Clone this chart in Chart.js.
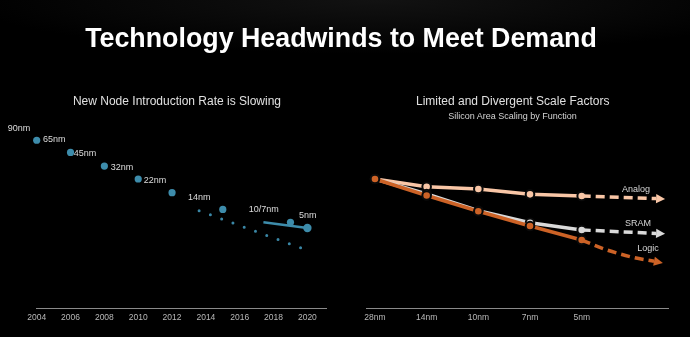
<!DOCTYPE html>
<html>
<head>
<meta charset="utf-8">
<script src="https://cdn.jsdelivr.net/npm/chart.js@4/dist/chart.umd.min.js"></script>
<style>
  html, body { margin: 0; padding: 0; }
  body {
    width: 690px; height: 337px; overflow: hidden; position: relative;
    background: radial-gradient(ellipse 60% 16% at 55% 0%, rgba(60,60,60,0.3), rgba(0,0,0,0) 100%), #000;
    font-family: "Liberation Sans", Arial, sans-serif;
  }
  canvas { position: absolute; left: 0; top: 0; }
  .txt { position: absolute; text-align: center; white-space: nowrap; line-height: 1; }
  #title { left: 41px; width: 600px; top: 24.5px; font-size: 26.8px; font-weight: bold; color: #fff; }
  #leftTitle { left: -23px; width: 400px; top: 94.8px; font-size: 12px; color: #e0e0e0; }
  #rightTitle { left: 312.7px; width: 400px; top: 94.8px; font-size: 12px; color: #e0e0e0; }
  #rightSub { left: 312.5px; width: 400px; top: 111.7px; font-size: 9px; color: #d4d4d4; }
</style>
</head>
<body>
<canvas id="nodeChart" width="690" height="337"></canvas>
<canvas id="scaleChart" width="690" height="337"></canvas>
<div class="txt" id="title">Technology Headwinds to Meet Demand</div>
<div class="txt" id="leftTitle">New Node Introduction Rate is Slowing</div>
<div class="txt" id="rightTitle">Limited and Divergent Scale Factors</div>
<div class="txt" id="rightSub">Silicon Area Scaling by Function</div>
<script>
// ---- Node introduction cadence ----
const introYears = [2004, 2006, 2008, 2010, 2012, 2015, 2019, 2020];
const introPace = [88.3, 81.9, 74.7, 67.9, 60.7, 51.9, 45.1, 42.1];
const introNames = ['65nm', '45nm', '32nm', '22nm', '14nm', '', '10/7nm', '5nm'];
const priorNodeName = '90nm';
const trendYears = [2013.6, 2019.6];
const trendPace = [51.2, 31.7];
const recentYears = [2017.4, 2020];
const recentPace = [45.1, 42.1];
const yearTicks = [2004, 2006, 2008, 2010, 2012, 2014, 2016, 2018, 2020];

// ---- Silicon area scaling by function ----
const processNodes = ['28nm', '14nm', '10nm', '7nm', '5nm'];
const analogArea = [1.0, 0.940, 0.922, 0.881, 0.868];
const sramArea = [1.0, 0.884, 0.754, 0.661, 0.605];
const logicArea = [1.0, 0.872, 0.750, 0.636, 0.527];
const analogOutlookStep = [4, 5.44];
const analogOutlook = [0.868, 0.848];
const sramOutlookStep = [4, 5.44];
const sramOutlook = [0.605, 0.578];
const logicOutlookStep = [4, 4.45, 5.0, 5.4];
const logicOutlook = [0.527, 0.455, 0.392, 0.362];

Chart.defaults.font.family = '"Liberation Sans", Arial, sans-serif';
Chart.defaults.animation = false;

const BLUE = '#3d8cab';
const ANALOG = '#f9c6a6';
const SRAM = '#d9d9d9';
const LOGIC = '#cc6226';

const pairs = (xs, ys) => xs.map((x, i) => ({ x, y: ys[i] }));

// Node name tags placed beside each introduction point
const nodeTagStyle = [
  { dx: 6.3, dy: -0.6 }, { dx: 3.3, dy: 1 }, { dx: 6.3, dy: 1.3 }, { dx: 5.6, dy: 1.7 },
  { dx: 16, dy: 5 }, { dx: 0, dy: 0 }, { dx: -41.7, dy: -13 }, { dx: -8.3, dy: -12 }
];
const priorTagStyle = { dx: -29, dy: -11.3 };

const nodeTags = {
  id: 'nodeTags',
  afterDatasetsDraw(chart) {
    const pts = chart.getDatasetMeta(2).data;
    const ctx = chart.ctx;
    ctx.save();
    ctx.font = '9px "Liberation Sans", Arial, sans-serif';
    ctx.fillStyle = '#dcdcdc';
    ctx.textBaseline = 'middle';
    ctx.textAlign = 'left';
    introNames.forEach((name, i) => {
      if (!name) return;
      const p = pts[i];
      ctx.fillText(name, p.x + nodeTagStyle[i].dx, p.y + nodeTagStyle[i].dy);
    });
    const p0 = pts[0];
    ctx.fillText(priorNodeName, p0.x + priorTagStyle.dx, p0.y + priorTagStyle.dy);
    ctx.restore();
  }
};

new Chart(document.getElementById('nodeChart'), {
  type: 'scatter',
  data: {
    datasets: [
      {
        data: pairs(trendYears, trendPace),
        showLine: true,
        borderColor: '#3a87a6',
        borderWidth: 3,
        borderDash: [0, 12],
        borderCapStyle: 'round',
        pointRadius: 0,
        clip: false
      },
      {
        data: pairs(recentYears, recentPace),
        showLine: true,
        borderColor: BLUE,
        borderWidth: 2.4,
        pointRadius: 0,
        clip: false
      },
      {
        data: pairs(introYears, introPace),
        showLine: false,
        pointRadius: [3.6, 3.6, 3.6, 3.6, 3.6, 3.6, 3.6, 4.2],
        pointBackgroundColor: BLUE,
        pointBorderWidth: 0,
        clip: false
      }
    ]
  },
  options: {
    responsive: false,
    layout: { padding: { left: 36.7, right: 364, top: 118, bottom: 8.8 } },
    plugins: { legend: { display: false }, tooltip: { enabled: false } },
    scales: {
      x: {
        type: 'linear', min: 2004, max: 2021.1,
        afterBuildTicks: s => { s.ticks = yearTicks.map(v => ({ value: v })); },
        grid: { display: false, drawTicks: false },
        border: { display: true, color: '#8a8a8a', width: 1 },
        ticks: { color: '#b8b8b8', font: { size: 8.5 }, padding: 5, maxRotation: 0, autoSkip: false,
                 callback: v => String(v) }
      },
      y: { display: false, min: 0, max: 100 }
    }
  },
  plugins: [nodeTags]
});

// Arrowheads at the end of the projected (dashed) trends, plus function names
const outlookTags = [
  { ds: 2, text: 'Analog', dx: -29, dy: -9.5 },
  { ds: 1, text: 'SRAM', dx: -27, dy: -9.5 },
  { ds: 0, text: 'Logic', dx: -15, dy: -13 }
];
const arrowHeads = {
  id: 'arrowHeads',
  afterDatasetsDraw(chart) {
    const ctx = chart.ctx;
    ctx.save();
    chart.data.datasets.forEach((ds, i) => {
      if (!ds.arrow) return;
      const pts = chart.getDatasetMeta(i).data;
      const end = pts[pts.length - 1];
      const prev = pts[pts.length - 2];
      let bx = end.cp1x, by = end.cp1y;
      if (bx === undefined || (Math.abs(bx - end.x) < 0.5 && Math.abs(by - end.y) < 0.5)) { bx = prev.x; by = prev.y; }
      const ang = Math.atan2(end.y - by, end.x - bx);
      const len = 9, half = 4.6;
      ctx.translate(end.x, end.y);
      ctx.rotate(ang);
      ctx.beginPath();
      ctx.moveTo(len, 0);
      ctx.lineTo(0, -half);
      ctx.lineTo(0, half);
      ctx.closePath();
      ctx.fillStyle = ds.borderColor;
      ctx.fill();
      ctx.setTransform(1, 0, 0, 1, 0, 0);
    });
    ctx.font = '9px "Liberation Sans", Arial, sans-serif';
    ctx.fillStyle = '#d6d6d6';
    ctx.textAlign = 'center';
    ctx.textBaseline = 'middle';
    outlookTags.forEach(t => {
      const pts = chart.getDatasetMeta(t.ds).data;
      const end = pts[pts.length - 1];
      const pix = end.x + 9;
      ctx.fillText(t.text, pix + t.dx, end.y + t.dy);
    });
    ctx.restore();
  }
};

const solid = (values, color) => ({
  data: values.map((v, i) => ({ x: i, y: v })),
  borderColor: color,
  backgroundColor: color,
  borderWidth: 3.5,
  pointRadius: 4.3,
  pointBorderWidth: 2,
  pointBorderColor: '#0a0a0a',
  pointBackgroundColor: color,
  clip: false
});
const dashed = (xs, ys, color, curved) => ({
  data: pairs(xs, ys),
  borderColor: color,
  borderWidth: 3.5,
  borderDash: [9, 5],
  pointRadius: 0,
  tension: curved ? 0.4 : 0,
  cubicInterpolationMode: curved ? 'monotone' : 'default',
  arrow: true,
  clip: false
});

new Chart(document.getElementById('scaleChart'), {
  type: 'line',
  data: {
    datasets: [
      dashed(logicOutlookStep, logicOutlook, LOGIC, true),
      dashed(sramOutlookStep, sramOutlook, SRAM, false),
      dashed(analogOutlookStep, analogOutlook, ANALOG, false),
      solid(logicArea, LOGIC),
      solid(sramArea, SRAM),
      solid(analogArea, ANALOG)
    ]
  },
  options: {
    responsive: false,
    layout: { padding: { left: 366.7, right: 22, top: 140.3, bottom: 8.8 } },
    plugins: { legend: { display: false }, tooltip: { enabled: false } },
    scales: {
      x: {
        type: 'linear', min: -0.16, max: 5.67,
        afterBuildTicks: s => { s.ticks = processNodes.map((_, i) => ({ value: i })); },
        grid: { display: false, drawTicks: false },
        border: { display: true, color: '#8a8a8a', width: 1 },
        ticks: { color: '#b8b8b8', font: { size: 8.5 }, padding: 5, maxRotation: 0, autoSkip: false,
                 callback: v => processNodes[v] }
      },
      y: { display: false, min: 0, max: 1.3 }
    }
  },
  plugins: [arrowHeads]
});
</script>
</body>
</html>
